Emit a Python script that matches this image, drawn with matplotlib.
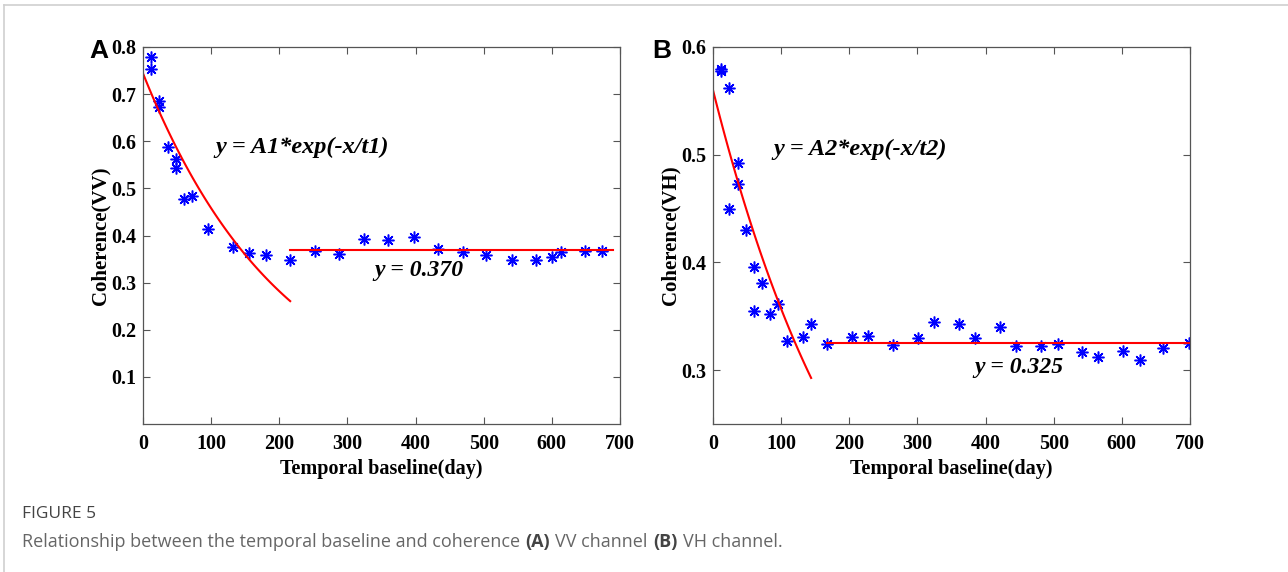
import matplotlib
matplotlib.use("Agg")
import matplotlib.pyplot as plt
import numpy as np
from matplotlib.lines import Line2D

# panel A: VV channel (temporal baseline in days, coherence)
vv_days = [12, 12, 24, 24, 36, 48, 48, 60, 72, 96, 132, 156, 180, 216,
           253, 288, 324, 360, 397, 433, 469, 504, 541, 576, 600, 613, 649, 673]
vv_coh = [0.779, 0.754, 0.686, 0.673, 0.588, 0.563, 0.543, 0.477, 0.484, 0.414,
          0.375, 0.362, 0.359, 0.347, 0.368, 0.360, 0.392, 0.390, 0.396, 0.372,
          0.365, 0.359, 0.349, 0.349, 0.354, 0.364, 0.367, 0.368]
vv_A1, vv_t1 = 0.744, 206.0
vv_fit_range = (0, 216)
vv_level, vv_level_range = 0.370, (216, 690)

# panel B: VH channel
vh_days = [12, 12, 24, 36, 36, 24, 48, 60, 72, 60, 84, 96, 108, 132, 144, 168,
           204, 228, 264, 301, 324, 361, 385, 421, 445, 481, 506, 541, 565, 602,
           626, 661, 698]
vh_coh = [0.580, 0.578, 0.562, 0.492, 0.473, 0.450, 0.430, 0.396, 0.381, 0.355,
          0.352, 0.361, 0.327, 0.331, 0.343, 0.324, 0.331, 0.332, 0.323, 0.330,
          0.345, 0.343, 0.330, 0.340, 0.322, 0.322, 0.324, 0.317, 0.312, 0.318,
          0.309, 0.321, 0.325]
vh_A2, vh_t2 = 0.560, 222.0
vh_fit_range = (0, 144)
vh_level, vh_level_range = 0.325, (168, 700)

serif = "Liberation Serif"
W, H = 1288, 572
fig = plt.figure(figsize=(W / 100, H / 100), dpi=100)

asterisk = (8, 2, 0)


def panel(rect, days, coh, A, t, fit_range, level, level_range, ylim, yticks,
          ylabel, eq, eq_pos, lvl_txt, lvl_pos):
    ax = fig.add_axes(rect)
    ax.plot(days, coh, linestyle="none", marker=asterisk, markersize=8.5,
            markeredgecolor="#0000ff", markeredgewidth=1.1, color="#0000ff")
    xf = np.linspace(fit_range[0], fit_range[1], 100)
    ax.plot(xf, A * np.exp(-xf / t), color="red", lw=1.5)
    ax.plot(level_range, [level, level], color="red", lw=1.5)
    ax.set_xlim(0, 700)
    ax.set_ylim(*ylim)
    ax.set_xticks(range(0, 701, 100))
    ax.set_yticks(yticks)
    ax.set_yticklabels([f"{v:.1f}" for v in yticks])
    ax.tick_params(direction="in", top=True, right=True, length=5,
                   color="#555555", labelsize=14.5)
    ax.tick_params(axis="y", pad=5)
    ax.tick_params(axis="x", pad=7)
    for lab in ax.get_xticklabels() + ax.get_yticklabels():
        lab.set_fontfamily(serif)
        lab.set_fontweight("bold")
    for s in ax.spines.values():
        s.set_color("#555555")
        s.set_linewidth(0.9)
    ax.set_xlabel("Temporal baseline(day)", fontfamily=serif,
                  fontweight="bold", fontsize=14.5, labelpad=4)
    ax.set_ylabel(ylabel, fontfamily=serif, fontweight="bold", fontsize=15,
                  labelpad=0)
    ax.text(eq_pos[0], eq_pos[1], eq, fontfamily=serif, fontweight="bold",
            fontstyle="italic", fontsize=17.5, ha="left", va="center")
    ax.text(lvl_pos[0], lvl_pos[1], lvl_txt, fontfamily=serif,
            fontweight="bold", fontstyle="italic", fontsize=17, ha="left",
            va="center")
    return ax


axA = panel([143 / W, 1 - 424 / H, 477 / W, 377 / H], vv_days, vv_coh,
            vv_A1, vv_t1, vv_fit_range, vv_level, vv_level_range, (0, 0.8),
            [0.1, 0.2, 0.3, 0.4, 0.5, 0.6, 0.7, 0.8], "Coherence(VV)",
            "y = A1*exp(-x/t1)", (106, 0.586), "y = 0.370", (340, 0.325))
axB = panel([713 / W, 1 - 424 / H, 477 / W, 377 / H], vh_days, vh_coh,
            vh_A2, vh_t2, vh_fit_range, vh_level, vh_level_range, (0.25, 0.6),
            [0.3, 0.4, 0.5, 0.6], "Coherence(VH)",
            "y = A2*exp(-x/t2)", (88, 0.505), "y = 0.325", (384, 0.302))

fig.text(89 / W, 1 - 51 / H, "A", fontfamily="Liberation Sans",
         fontweight="bold", fontsize=19, va="center", ha="left")
fig.text(652 / W, 1 - 51 / H, "B", fontfamily="Liberation Sans",
         fontweight="bold", fontsize=19, va="center", ha="left")

# caption
cap_font = "Open Sans"
fig.text(22 / W, 1 - 514 / H, "FIGURE 5", fontfamily=cap_font, fontsize=12.5,
         fontweight="medium", color="#444444", va="center", ha="left")
t1 = fig.text(22 / W, 1 - 542 / H,
              "Relationship between the temporal baseline and coherence",
              fontfamily=cap_font, fontsize=13, color="#666666", va="center",
              ha="left")
pieces = [("(A)", "bold", "#444444"), ("VV channel", "normal", "#666666"),
          ("(B)", "bold", "#444444"), ("VH channel.", "normal", "#666666")]
prev = t1
for txt, wt, col in pieces:
    prev = plt.annotate(
        txt, xy=(1, 0), xycoords=prev, xytext=(3.8, 0),
        textcoords="offset points", fontfamily=cap_font, fontsize=13,
        fontweight=wt, color=col, va="bottom", ha="left",
        annotation_clip=False)

# page frame lines
fig.add_artist(Line2D([4 / W, 1], [1 - 5 / H, 1 - 5 / H], color="#cfcfcf",
                      lw=1.2))
fig.add_artist(Line2D([4 / W, 4 / W], [0, 1 - 5 / H], color="#cfcfcf",
                      lw=1.2))

fig.savefig("out.png", dpi=100)
